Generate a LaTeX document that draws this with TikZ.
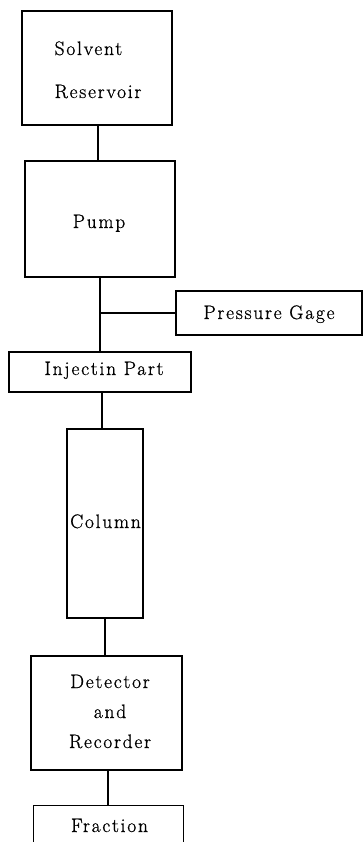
\documentclass[tikz,border=0pt]{standalone}
\usepackage{fontspec}
\newfontfamily\dfont{Latin Modern Roman}[LetterSpace=9, FakeBold=0.8]
\usetikzlibrary{calc}
\tikzset{
  box/.style={draw, line width=1.1pt, inner sep=0pt, align=center,
    font=\dfont\fontsize{19.5}{30}\selectfont},
  lbl/.style={inner sep=0pt, align=center,
    font=\dfont\fontsize{19.5}{30}\selectfont},
  conn/.style={line width=1.1pt}
}
\begin{document}
\begin{tikzpicture}[x=1pt,y=-1pt]
\useasboundingbox (0,0) rectangle (363,842);
% boxes
\node[box, minimum width=150pt, minimum height=114pt] (sr) at (97,68) {};
\node[lbl, align=left, anchor=base] (srt) at (98,98) {Solvent\\[13pt]Reservoir};
\node[box, minimum width=150pt, minimum height=116pt] (pump) at (100,219) {};
\node[lbl, anchor=base] (pumpt) at (99,228) {Pump};
\node[box, minimum width=186pt, minimum height=44pt] (pg) at (269,313) {};
\node[lbl, anchor=base] (pgt) at (269,319) {Pressure Gage};
\node[box, minimum width=182pt, minimum height=40pt] (inj) at (100,372) {};
\node[lbl, anchor=base] (injt) at (104,375) {Injectin Part};
\node[box, minimum width=76pt, minimum height=189pt] (col) at (105,523.5) {};
\node[lbl, anchor=base] (colt) at (105.5,528) {Column};
\node[box, minimum width=151pt, minimum height=114pt] (det) at (106.5,713) {};
\node[lbl, anchor=base] (dett) at (110,748) {Detector\\and\\Recorder};
\node[inner sep=0pt, minimum width=149pt, minimum height=37pt] (fr) at (108.5,824.5) {};
\node[lbl, anchor=base] (frt) at (109.5,832) {Fraction};
\draw[line width=1.1pt] (fr.south west) -- (fr.north west) -- (fr.north east) -- (fr.south east);
% connector anchor points
\coordinate (c1a) at ($(sr.south)+(1,0)$);
\coordinate (c3a) at ($(inj.south)+(2,0)$);
\coordinate (c5a) at ($(det.south)+(1.5,0)$);
% connectors
\draw[conn] (c1a) -- (c1a |- pump.north);
\draw[conn] (pump.south) -- (pump.south |- inj.north);
\coordinate (br) at ($(pump.south)!0.5!(pump.south |- inj.north)$);
\coordinate (brj) at (br |- pg.west);
\draw[conn] (brj) -- (pg.west);
\draw[conn] (c3a) -- (c3a |- col.north);
\draw[conn] (col.south) -- (col.south |- det.north);
\draw[conn] (c5a) -- (c5a |- fr.north);
\end{tikzpicture}
\end{document}
